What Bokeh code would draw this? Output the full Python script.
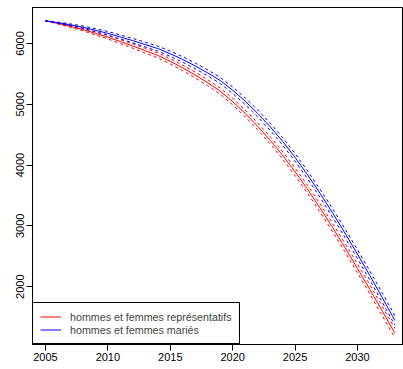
from bokeh.plotting import figure
from bokeh.models import Range1d, FixedTicker, Legend, LegendItem
from bokeh.embed import file_html
from bokeh.resources import INLINE

years = list(range(2005, 2034))
blue_center = [6370, 6340, 6305, 6265, 6215, 6165, 6105, 6045, 5980, 5915,
               5830, 5735, 5630, 5515, 5390, 5230, 5050, 4850, 4630, 4390,
               4125, 3840, 3535, 3215, 2880, 2535, 2180, 1815, 1445]
red_center = [6370, 6328, 6280, 6228, 6165, 6103, 6030, 5957, 5880, 5802,
              5705, 5597, 5480, 5353, 5215, 5042, 4850, 4638, 4408, 4160,
              3890, 3602, 3295, 2975, 2642, 2300, 1952, 1595, 1235]
band_half = [0, 9, 16, 21, 26, 30, 33, 36, 39, 41, 43, 45, 47, 49, 51, 53,
             55, 57, 59, 61, 63, 65, 67, 69, 71, 73, 75, 77, 79]
x_ticks = [2005, 2010, 2015, 2020, 2025, 2030]
y_ticks = [2000, 3000, 4000, 5000, 6000]
legend_labels = ["hommes et femmes représentatifs", "hommes et femmes mariés"]

FONT = "Liberation Sans"

p = figure(width=403, height=369, output_backend="svg", toolbar_location=None,
           x_range=Range1d(2003.96, 2033.69), y_range=Range1d(1049, 6590),
           min_border_left=32, min_border_right=0, min_border_top=7, min_border_bottom=25)
p.xgrid.visible = False
p.ygrid.visible = False
p.outline_line_color = "black"
p.outline_line_width = 1
p.background_fill_color = "white"
p.border_fill_color = "white"

for ax in (p.xaxis[0], p.yaxis[0]):
    ax.axis_line_color = "black"
    ax.major_tick_line_color = "black"
    ax.major_tick_out = 6
    ax.major_tick_in = 0
    ax.minor_tick_line_color = None
    ax.major_label_text_font = FONT
    ax.major_label_text_font_size = "11px"
    ax.major_label_text_color = "black"
    ax.major_label_standoff = 2

p.xaxis[0].ticker = FixedTicker(ticks=x_ticks)
p.yaxis[0].ticker = FixedTicker(ticks=y_ticks)
p.yaxis[0].major_label_orientation = "vertical"

renderers = {}
for name, center, color in (("red", red_center, "#FF0000"), ("blue", blue_center, "#0000FF")):
    upper = [c + h for c, h in zip(center, band_half)]
    lower = [c - h for c, h in zip(center, band_half)]
    renderers[name] = p.line(years, center, line_color=color, line_width=1)
    p.line(years, upper, line_color=color, line_width=1, line_dash="3 3")
    p.line(years, lower, line_color=color, line_width=1, line_dash="3 3")

legend = Legend(items=[LegendItem(label=legend_labels[0], renderers=[renderers["red"]]),
                       LegendItem(label=legend_labels[1], renderers=[renderers["blue"]])],
                location="bottom_left", margin=0, padding=7, spacing=0,
                border_line_color="black", border_line_width=1, border_line_alpha=1,
                label_text_font=FONT, label_text_font_size="10.7px",
                glyph_width=21, glyph_height=13, label_height=13, label_standoff=9,
                background_fill_color="white", background_fill_alpha=1)
p.add_layout(legend)

open("out.html", "w").write(file_html(p, INLINE))
